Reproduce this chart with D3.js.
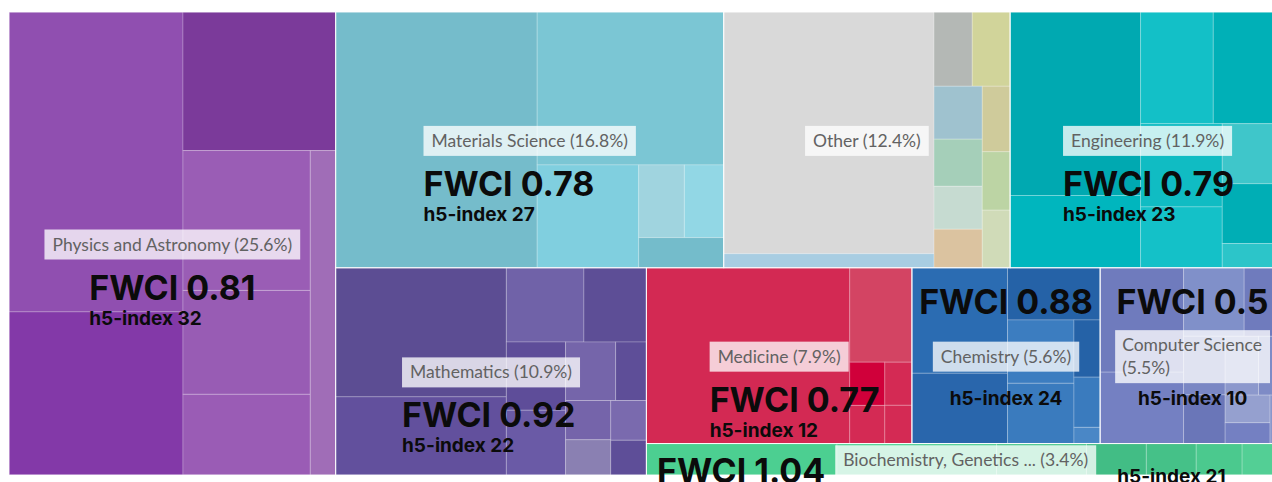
<!DOCTYPE html>
<html>
<head>
<meta charset="utf-8">
<script src="https://cdn.jsdelivr.net/npm/d3@7"></script>
<style>
  html, body { margin: 0; padding: 0; background: #fff; overflow: hidden; }
  svg { display: block; }
  .lbl { font-family: Lato, "Open Sans", sans-serif; font-size: 17.5px; fill: #626262; }
  .fwci { font-family: Inter, Roboto, sans-serif; font-weight: 700; font-size: 34px; fill: #0b0b0b; }
  .h5 { font-family: Inter, Roboto, sans-serif; font-weight: 700; font-size: 19px; fill: #0b0b0b; }
</style>
</head>
<body>
<div id="chart"></div>
<script>
const categories = ["Physics and Astronomy", "Materials Science", "Other", "Engineering", "Mathematics",
  "Medicine", "Chemistry", "Computer Science", "Biochemistry, Genetics and Molecular Biology"];
const shares = [25.6, 16.8, 12.4, 11.9, 10.9, 7.9, 5.6, 5.5, 3.4];
const fwci = [0.81, 0.78, null, 0.79, 0.92, 0.77, 0.88, 0.5, 1.04];
const h5Index = [32, 27, null, 23, 22, 12, 24, 10, 21];

// relative size of the sub-topic tiles inside each subject area
const subSizes = [
  [51300, 27900, 20800, 17500, 13000, 10100, 8100],
  [51300, 28400, 10400, 3300, 2850, 2550],
  [50600, 2940, 2820, 2800, 2540, 2260, 2060, 1850, 1820, 1620, 1600],
  [23600, 9300, 8000, 7900, 6700, 4900, 3720, 3700, 1500],
  [21800, 13200, 5700, 4590, 4000, 3800, 2900, 1780, 1755, 1575, 1400, 1225],
  [35500, 5830, 1505, 1330, 1160, 1030],
  [9975, 6650, 4780, 4160, 3960, 1480, 1300, 420],
  [8400, 5750, 4000, 2700, 2350, 1950, 1900, 1500, 1200, 900, 700],
  [191, 160, 90, 60, 50, 46, 43]
];

// tile colours, same order as subSizes
const palette = [
  ["#904fb0", "#8339a8", "#7b3a9a", "#9a5db5", "#985cb4", "#9a5cb5", "#a06db7"],
  ["#75bccb", "#7bc6d4", "#80cfdf", "#a0d4df", "#92d7e5", "#74bccb"],
  ["#d9d9d9", "#a8cde2", "#b4b8b5", "#d1d49a", "#9fc2cf", "#a5cfb9", "#c6dbd1", "#dbc3a0", "#cfcb9b", "#bcd4a4", "#d0dbb8"],
  ["#00a9b1", "#00b6be", "#13c0c7", "#00b0b7", "#10bcc3", "#14c1c8", "#3fc6ca", "#00aeb5", "#2cc5c9"],
  ["#5c4d93", "#62509d", "#7062a8", "#5d4e96", "#5e4d99", "#6a5aa6", "#7565aa", "#5e4e98", "#7564aa", "#8a80b2", "#7a6aae", "#5e4e98"],
  ["#d32953", "#d34463", "#d0003a", "#d42a54", "#d42a54", "#d42a54"],
  ["#2b6cb2", "#2966ac", "#2562a7", "#3c7dc0", "#3a7bbe", "#2562a7", "#3a7bbe", "#4a87c6"],
  ["#6f7bbd", "#7480c2", "#8090c9", "#6f7bbd", "#7a87c4", "#6a76b8", "#8c98cc", "#7e8bc6", "#95a0cf", "#7480c2", "#8a96cb"],
  ["#4ccf91", "#4fd093", "#49c98d", "#42bd85", "#45c188", "#4bc98e", "#53cf95"]
];

const W = 1272, H = 482;
const offX = 9, offY = 12, mapW = 1276, mapH = 463;

// squarify variant: strips alternate column / row, a strip closes when
// adding the next tile makes the previous tile less square
function tileAlternating(parent, x0, y0, x1, y1) {
  const k = (x1 - x0) * (y1 - y0) / parent.value;
  const aspect = (a, b) => Math.max(a / b, b / a);
  let vertical = true, strip = [], stripArea = 0;

  function lay(nodes, area, fill) {
    const group = { children: nodes, value: d3.sum(nodes, d => d.value) };
    if (vertical) {
      const x = fill ? x1 : x0 + area / (y1 - y0);
      d3.treemapSlice(group, x0, y0, x, y1);
      x0 = x;
    } else {
      const y = fill ? y1 : y0 + area / (x1 - x0);
      d3.treemapDice(group, x0, y0, x1, y);
      y0 = y;
    }
    vertical = !vertical;
  }

  parent.children.forEach(child => {
    const area = child.value * k;
    if (strip.length) {
      const side = vertical ? y1 - y0 : x1 - x0;
      const prev = strip[strip.length - 1].value * k;
      const before = stripArea / side, after = (stripArea + area) / side;
      if (aspect(after, prev / after) > aspect(before, prev / before)) {
        lay(strip, stripArea, false);
        strip = []; stripArea = 0;
      }
    }
    strip.push(child);
    stripArea += area;
  });
  lay(strip, stripArea, true);
}

function shortName(name) {
  if (name.length <= 30) return name;
  return name.slice(0, name.lastIndexOf(' ', 24)) + ' ...';
}

const tree = {
  name: 'root',
  children: categories.map((name, i) => {
    const tot = d3.sum(subSizes[i]);
    return {
      name: name, idx: i,
      children: subSizes[i].map((v, j) => ({ idx: i, sub: j, value: v / tot * shares[i] }))
    };
  })
};

const root = d3.hierarchy(tree)
  .sum(d => d.value || 0)
  .sort((a, b) => b.value - a.value);

d3.treemap().size([mapW, mapH]).round(false).tile(tileAlternating)(root);

const svg = d3.select('#chart').append('svg').attr('width', W).attr('height', H);
const g = svg.append('g').attr('transform', 'translate(' + offX + ',' + offY + ')');

g.selectAll('rect.cell')
  .data(root.leaves())
  .join('rect')
    .attr('class', 'cell')
    .attr('x', d => d.x0).attr('y', d => d.y0)
    .attr('width', d => d.x1 - d.x0).attr('height', d => d.y1 - d.y0)
    .attr('fill', d => palette[d.data.idx][d.data.sub])
    .attr('stroke', 'rgba(255,255,255,0.22)')
    .attr('stroke-width', 1);

g.selectAll('rect.area')
  .data(root.children)
  .join('rect')
    .attr('class', 'area')
    .attr('x', d => d.x0).attr('y', d => d.y0)
    .attr('width', d => d.x1 - d.x0).attr('height', d => d.y1 - d.y0)
    .attr('fill', 'none')
    .attr('stroke', 'rgba(255,255,255,0.75)')
    .attr('stroke-width', 1);

const labels = g.append('g');

root.children.forEach(node => {
  const i = node.data.idx;
  const cw = node.x1 - node.x0, ch = node.y1 - node.y0;
  const cx = (node.x0 + node.x1) / 2, cy = (node.y0 + node.y1) / 2 + 1;
  const text = shortName(categories[i]) + ' (' + shares[i] + '%)';
  const maxW = cw - 30;

  const lg = labels.append('g');
  const bg = lg.append('rect').attr('fill', '#fff').attr('fill-opacity', 0.77);
  const t = lg.append('text').attr('class', 'lbl').text(text);
  const fullW = t.node().getComputedTextLength();

  let lines = [text], boxW = fullW + 16;
  if (boxW > maxW) {
    lines = [];
    let line = '';
    text.split(' ').forEach(word => {
      const tryLine = line ? line + ' ' + word : word;
      t.text(tryLine);
      if (line && t.node().getComputedTextLength() + 14 > maxW) {
        lines.push(line);
        line = word;
      } else {
        line = tryLine;
      }
    });
    lines.push(line);
    boxW = maxW;
  }
  t.text(null);

  const boxH = lines.length * 23 + 7;
  const bx = cx - boxW / 2, by = cy - boxH / 2;
  bg.attr('x', bx).attr('y', by).attr('width', boxW).attr('height', boxH);
  lines.forEach((ln, k) => {
    t.append('tspan')
      .attr('x', lines.length > 1 ? bx + 7 : cx)
      .attr('y', by + 21 + k * 23)
      .attr('text-anchor', lines.length > 1 ? 'start' : 'middle')
      .text(ln);
  });

  if (fwci[i] == null) return;
  const fText = 'FWCI ' + fwci[i], hText = 'h5-index ' + h5Index[i];

  if (ch < 60) {
    lg.append('text').attr('class', 'fwci').attr('text-anchor', 'end')
      .attr('x', bx - 10).attr('y', cy + 23).text(fText);
    lg.append('text').attr('class', 'h5').attr('text-anchor', 'start')
      .attr('x', bx + boxW + 21).attr('y', cy + 23).text(hText);
  } else if (cw < 200) {
    lg.append('text').attr('class', 'fwci').attr('text-anchor', 'middle')
      .attr('x', cx).attr('y', cy - 43).text(fText);
    lg.append('text').attr('class', 'h5').attr('text-anchor', 'middle')
      .attr('x', cx).attr('y', cy + 48).text(hText);
  } else {
    const ft = lg.append('text').attr('class', 'fwci').attr('y', cy + 55).text(fText);
    const fw = ft.node().getComputedTextLength();
    const fx = boxW > fw + 60 ? cx - fw / 2 : bx;
    ft.attr('x', fx);
    lg.append('text').attr('class', 'h5').attr('x', fx).attr('y', cy + 80).text(hText);
  }
});
</script>
</body>
</html>
